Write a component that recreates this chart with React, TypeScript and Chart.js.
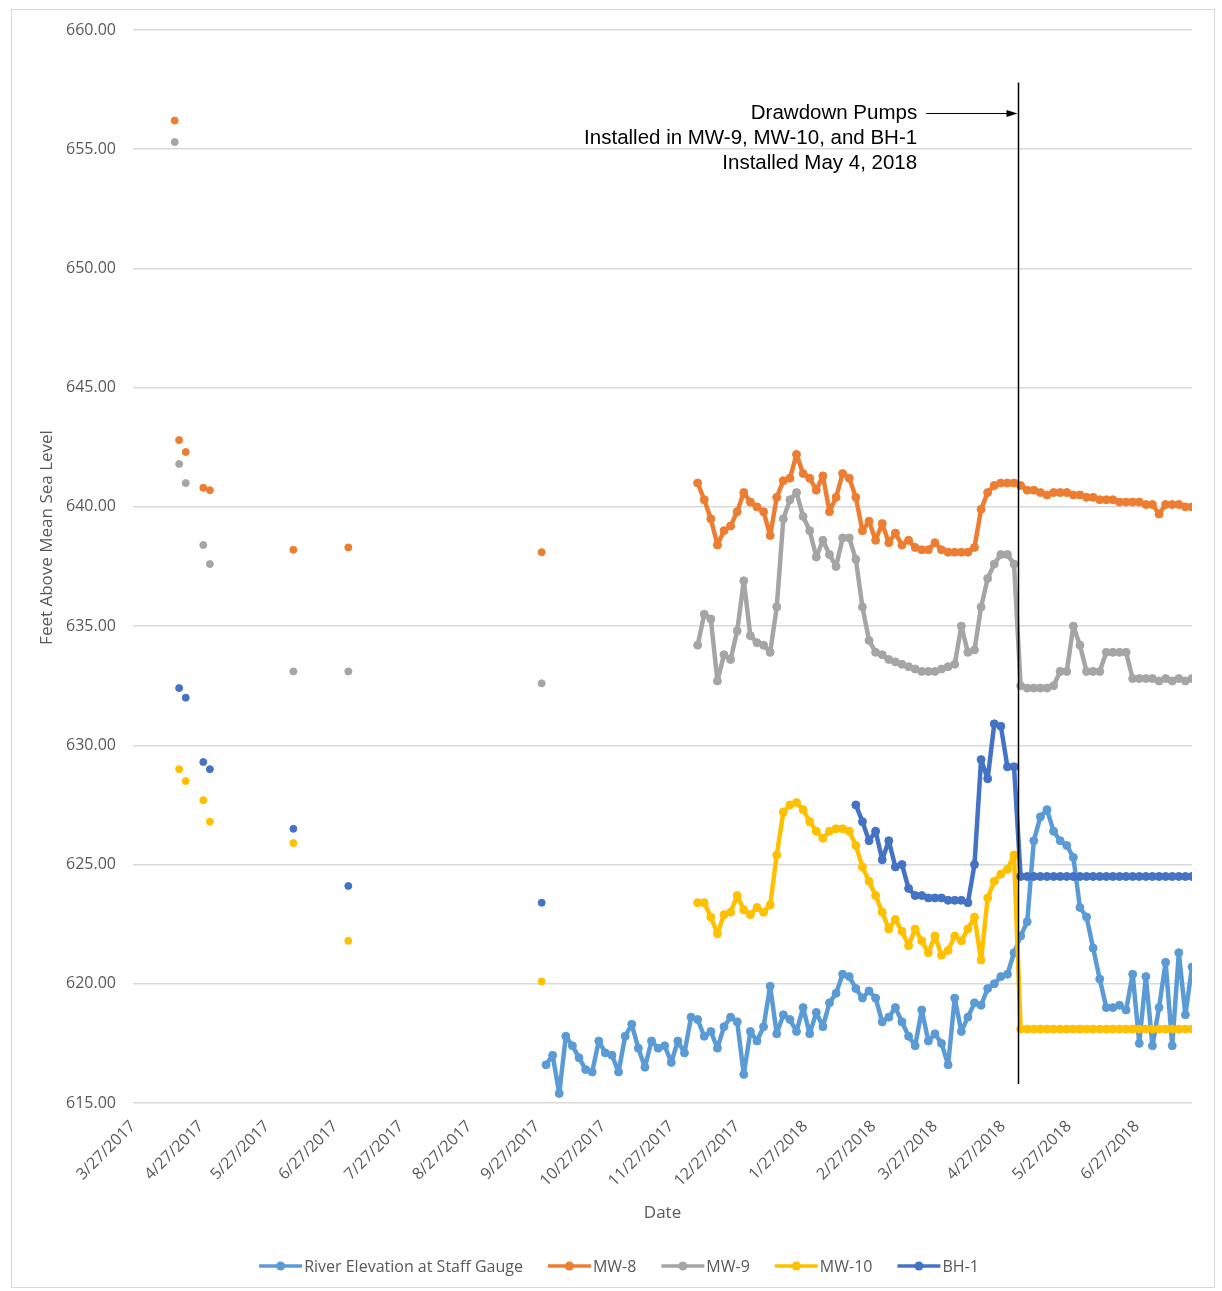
import { useEffect, useRef } from "react";
import { Chart, registerables } from "chart.js";

Chart.register(...registerables);

// ---- dates ---------------------------------------------------------------
const ORIGIN = "2017-03-27";
const X_MAX_DATE = "2018-07-22";

const dayOf = (iso: string): number => {
  const [y, m, d] = iso.split("-").map(Number);
  const [y0, m0, d0] = ORIGIN.split("-").map(Number);
  return (Date.UTC(y, m - 1, d) - Date.UTC(y0, m0 - 1, d0)) / 86400000;
};
const dayOfUS = (s: string): number => {
  const [m, d, y] = s.split("/").map(Number);
  return dayOf(`${y}-${String(m).padStart(2, "0")}-${String(d).padStart(2, "0")}`);
};

// ---- axes ----------------------------------------------------------------
const TICK_LABELS = [
  "3/27/2017", "4/27/2017", "5/27/2017", "6/27/2017", "7/27/2017", "8/27/2017",
  "9/27/2017", "10/27/2017", "11/27/2017", "12/27/2017", "1/27/2018", "2/27/2018",
  "3/27/2018", "4/27/2018", "5/27/2018", "6/27/2018",
];
const TICK_DAYS = TICK_LABELS.map(dayOfUS);
const Y_MIN = 615;
const Y_MAX = 660;
const Y_STEP = 5;

// ---- series --------------------------------------------------------------
const SERIES_NAMES = ["River Elevation at Staff Gauge", "MW-8", "MW-9", "MW-10", "BH-1"];
const SERIES_COLORS = ["#5B9BD5", "#ED7D31", "#A5A5A5", "#FFC000", "#4472C4"];

// Manual water-level readings
const MANUAL_DATES = [
  "2017-04-15", "2017-04-17", "2017-04-20", "2017-04-28",
  "2017-05-01", "2017-06-08", "2017-07-03", "2017-09-29",
];
const MW8_MANUAL = [656.2, 642.8, 642.3, 640.8, 640.7, 638.2, 638.3, 638.1];
const MW9_MANUAL = [655.3, 641.8, 641.0, 638.4, 637.6, 633.1, 633.1, 632.6];
const MW10_MANUAL = [null, 629.0, 628.5, 627.7, 626.8, 625.9, 621.8, 620.1];
const BH1_MANUAL = [null, 632.4, 632.0, 629.3, 629.0, 626.5, 624.1, 623.4];

// Transducer readings, one value every LOGGER_STEP_DAYS days from the start date
const LOGGER_STEP_DAYS = 3;

const RIVER_START = "2017-10-01";
const RIVER = [
  616.6, 617.0, 615.4, 617.8, 617.4, 616.9, 616.4, 616.3, 617.6, 617.1,
  617.0, 616.3, 617.8, 618.3, 617.3, 616.5, 617.6, 617.3, 617.4, 616.7,
  617.6, 617.1, 618.6, 618.5, 617.8, 618.0, 617.3, 618.2, 618.6, 618.4,
  616.2, 618.0, 617.6, 618.2, 619.9, 617.9, 618.7, 618.5, 618.0, 619.0,
  617.9, 618.8, 618.2, 619.2, 619.6, 620.4, 620.3, 619.8, 619.4, 619.7,
  619.4, 618.4, 618.6, 619.0, 618.4, 617.8, 617.4, 618.9, 617.6, 617.9,
  617.5, 616.6, 619.4, 618.0, 618.6, 619.2, 619.1, 619.8, 620.0, 620.3,
  620.4, 621.3, 622.0, 622.6, 626.0, 627.0, 627.3, 626.4, 626.0, 625.8,
  625.3, 623.2, 622.8, 621.5, 620.2, 619.0, 619.0, 619.1, 618.9, 620.4,
  617.5, 620.3, 617.4, 619.0, 620.9, 617.4, 621.3, 618.7, 620.7,
];

const WELL_START = "2017-12-09";
const MW8 = [
  641.0, 640.3, 639.5, 638.4, 639.0, 639.2, 639.8, 640.6, 640.2, 640.0,
  639.8, 638.8, 640.4, 641.1, 641.2, 642.2, 641.4, 641.2, 640.7, 641.3,
  639.8, 640.4, 641.4, 641.2, 640.4, 639.0, 639.4, 638.6, 639.3, 638.5,
  638.9, 638.4, 638.6, 638.3, 638.2, 638.2, 638.5, 638.2, 638.1, 638.1,
  638.1, 638.1, 638.3, 639.9, 640.6, 640.9, 641.0, 641.0, 641.0, 640.9,
  640.7, 640.7, 640.6, 640.5, 640.6, 640.6, 640.6, 640.5, 640.5, 640.4,
  640.4, 640.3, 640.3, 640.3, 640.2, 640.2, 640.2, 640.2, 640.1, 640.1,
  639.7, 640.1, 640.1, 640.1, 640.0, 640.0,
];
const MW9 = [
  634.2, 635.5, 635.3, 632.7, 633.8, 633.6, 634.8, 636.9, 634.6, 634.3,
  634.2, 633.9, 635.8, 639.5, 640.3, 640.6, 639.6, 639.0, 637.9, 638.6,
  638.0, 637.5, 638.7, 638.7, 637.8, 635.8, 634.4, 633.9, 633.8, 633.6,
  633.5, 633.4, 633.3, 633.2, 633.1, 633.1, 633.1, 633.2, 633.3, 633.4,
  635.0, 633.9, 634.0, 635.8, 637.0, 637.6, 638.0, 638.0, 637.6, 632.5,
  632.4, 632.4, 632.4, 632.4, 632.5, 633.1, 633.1, 635.0, 634.2, 633.1,
  633.1, 633.1, 633.9, 633.9, 633.9, 633.9, 632.8, 632.8, 632.8, 632.8,
  632.7, 632.8, 632.7, 632.8, 632.7, 632.8,
];
const MW10 = [
  623.4, 623.4, 622.8, 622.1, 622.9, 623.0, 623.7, 623.1, 622.9, 623.2,
  623.0, 623.3, 625.4, 627.2, 627.5, 627.6, 627.3, 626.8, 626.4, 626.1,
  626.4, 626.5, 626.5, 626.4, 625.8, 624.9, 624.3, 623.7, 623.0, 622.3,
  622.7, 622.2, 621.6, 622.3, 621.8, 621.3, 622.0, 621.2, 621.4, 622.0,
  621.8, 622.3, 622.8, 621.0, 623.6, 624.3, 624.6, 624.8, 625.4, 618.1,
  618.1, 618.1, 618.1, 618.1, 618.1, 618.1, 618.1, 618.1, 618.1, 618.1,
  618.1, 618.1, 618.1, 618.1, 618.1, 618.1, 618.1, 618.1, 618.1, 618.1,
  618.1, 618.1, 618.1, 618.1, 618.1, 618.1,
];

const BH1_START = "2018-02-19";
const BH1 = [
  627.5, 626.8, 626.0, 626.4, 625.2, 626.0, 624.9, 625.0, 624.0, 623.7,
  623.7, 623.6, 623.6, 623.6, 623.5, 623.5, 623.5, 623.4, 625.0, 629.4,
  628.6, 630.9, 630.8, 629.1, 629.1, 624.5, 624.5, 624.5, 624.5, 624.5,
  624.5, 624.5, 624.5, 624.5, 624.5, 624.5, 624.5, 624.5, 624.5, 624.5,
  624.5, 624.5, 624.5, 624.5, 624.5, 624.5, 624.5, 624.5, 624.5, 624.5,
  624.5, 624.5,
];

// ---- pump installation note ------------------------------------------------
const PUMP_DATE = "2018-05-04";
const PUMP_NOTE = ["Drawdown Pumps", "Installed in MW-9, MW-10, and BH-1", "Installed May 4, 2018"];
const PUMP_LINE_TOP = 657.8;
const PUMP_LINE_BOTTOM = 615.8;
const PUMP_ARROW_LEVEL = 656.5;
const PUMP_ARROW_TAIL = "2018-03-23";

// ---- helpers ---------------------------------------------------------------
type Pt = { x: number; y: number | null; manual?: boolean };

const loggerPoints = (start: string, values: number[]): Pt[] =>
  values.map((v, i) => ({ x: dayOf(start) + i * LOGGER_STEP_DAYS, y: v }));

const manualPoints = (values: (number | null)[]): Pt[] => {
  const out: Pt[] = [];
  MANUAL_DATES.forEach((d, i) => {
    const v = values[i];
    if (v == null) return;
    out.push({ x: dayOf(d), y: v, manual: true });
    out.push({ x: dayOf(d) + 0.5, y: null }); // break the line after each reading
  });
  return out;
};

const FONT = "'Open Sans', sans-serif";
const TEXT_GRAY = "#595959";

const decorPlugin = {
  id: "decor",
  beforeDraw(chart: any) {
    const { ctx, width, height } = chart;
    ctx.save();
    ctx.fillStyle = "#ffffff";
    ctx.fillRect(0, 0, width, height);
    ctx.strokeStyle = "#d9d9d9";
    ctx.lineWidth = 1;
    ctx.strokeRect(11.5, 9.5, width - 19, height - 13);
    ctx.restore();
  },
  afterDatasetsDraw(chart: any) {
    const { ctx, scales } = chart;
    const xs = scales.x;
    const ys = scales.y;
    ctx.save();
    // vertical marker at pump installation
    const xp = Math.round(xs.getPixelForValue(dayOf(PUMP_DATE))) + 0.5;
    ctx.strokeStyle = "#000000";
    ctx.lineWidth = 1.5;
    ctx.beginPath();
    ctx.moveTo(xp, ys.getPixelForValue(PUMP_LINE_TOP));
    ctx.lineTo(xp, ys.getPixelForValue(PUMP_LINE_BOTTOM));
    ctx.stroke();
    // arrow pointing at the marker
    const ya = Math.round(ys.getPixelForValue(PUMP_ARROW_LEVEL)) + 0.5;
    const xt = xs.getPixelForValue(dayOf(PUMP_ARROW_TAIL));
    ctx.lineWidth = 1.2;
    ctx.beginPath();
    ctx.moveTo(xt, ya);
    ctx.lineTo(xp - 8, ya);
    ctx.stroke();
    ctx.fillStyle = "#000000";
    ctx.beginPath();
    ctx.moveTo(xp - 1, ya);
    ctx.lineTo(xp - 12, ya - 3.5);
    ctx.lineTo(xp - 12, ya + 3.5);
    ctx.closePath();
    ctx.fill();
    // note text
    ctx.font = "20.5px 'Liberation Sans', Arial, sans-serif";
    ctx.textAlign = "right";
    ctx.textBaseline = "middle";
    PUMP_NOTE.forEach((line, i) => ctx.fillText(line, xt - 9, ya + i * 25));
    ctx.restore();
  },
  afterDraw(chart: any) {
    const { ctx, chartArea, width } = chart;
    ctx.save();
    ctx.fillStyle = TEXT_GRAY;
    // axis titles
    ctx.font = `17px ${FONT}`;
    ctx.textAlign = "center";
    ctx.textBaseline = "middle";
    ctx.fillText("Date", (chartArea.left + chartArea.right) / 2, chartArea.bottom + 110);
    ctx.save();
    ctx.translate(47, (chartArea.top + chartArea.bottom) / 2 - 29);
    ctx.rotate(-Math.PI / 2);
    ctx.fillText("Feet Above Mean Sea Level", 0, 0);
    ctx.restore();

    // legend
    ctx.font = `16px ${FONT}`;
    const sym = 43;
    const gap = 2;
    const spacing = 25;
    const widths = SERIES_NAMES.map((n) => ctx.measureText(n).width);
    const total =
      widths.reduce((a, w) => a + sym + gap + w, 0) + spacing * (SERIES_NAMES.length - 1);
    let x = width / 2 + 8 - total / 2;
    const y = chartArea.bottom + 163;
    ctx.textAlign = "left";
    SERIES_NAMES.forEach((name, i) => {
      const c = SERIES_COLORS[i];
      ctx.strokeStyle = c;
      ctx.fillStyle = c;
      ctx.lineWidth = 3.5;
      ctx.beginPath();
      ctx.moveTo(x, y);
      ctx.lineTo(x + sym, y);
      ctx.stroke();
      ctx.beginPath();
      ctx.arc(x + sym / 2, y, 4.5, 0, Math.PI * 2);
      ctx.fill();
      ctx.fillStyle = TEXT_GRAY;
      ctx.fillText(name, x + sym + gap, y + 1);
      x += sym + gap + widths[i] + spacing;
    });
    ctx.restore();
  },
};

export default function App() {
  const ref = useRef<HTMLCanvasElement | null>(null);

  useEffect(() => {
    document.body.style.margin = "0";
    if (!ref.current) return;

    const seriesData: Pt[][] = [
      loggerPoints(RIVER_START, RIVER),
      [...manualPoints(MW8_MANUAL), ...loggerPoints(WELL_START, MW8)],
      [...manualPoints(MW9_MANUAL), ...loggerPoints(WELL_START, MW9)],
      [...manualPoints(MW10_MANUAL), ...loggerPoints(WELL_START, MW10)],
      [...manualPoints(BH1_MANUAL), ...loggerPoints(BH1_START, BH1)],
    ];

    const chart = new Chart(ref.current, {
      type: "line",
      data: {
        datasets: SERIES_NAMES.map((name, i) => ({
          label: name,
          data: seriesData[i] as any,
          borderColor: SERIES_COLORS[i],
          backgroundColor: SERIES_COLORS[i],
          pointBackgroundColor: SERIES_COLORS[i],
          pointBorderColor: SERIES_COLORS[i],
          borderWidth: 4.5,
          pointRadius: (c: any) => (c.raw && c.raw.manual ? 3.5 : 4),
          pointBorderWidth: 1,
          borderJoinStyle: "round" as const,
          borderCapStyle: "round" as const,
          tension: 0,
          spanGaps: false,
          order: SERIES_NAMES.length - i,
        })),
      },
      options: {
        responsive: false,
        animation: false,
        devicePixelRatio: 1,
        layout: { padding: { top: 30, right: 30, left: 0, bottom: 0 } },
        plugins: { legend: { display: false }, tooltip: { enabled: false } },
        scales: {
          x: {
            type: "linear",
            min: 0,
            max: dayOf(X_MAX_DATE),
            afterBuildTicks: (s: any) => {
              s.ticks = TICK_DAYS.map((v) => ({ value: v }));
            },
            afterFit: (s: any) => {
              s.height = 188;
            },
            grid: { display: false },
            border: { display: false },
            ticks: {
              autoSkip: false,
              minRotation: 45,
              maxRotation: 45,
              padding: 6,
              color: TEXT_GRAY,
              font: { family: FONT, size: 16 },
              callback: (v: any) => {
                const k = TICK_DAYS.indexOf(Number(v));
                return k >= 0 ? TICK_LABELS[k] : "";
              },
            },
          },
          y: {
            min: Y_MIN,
            max: Y_MAX,
            afterFit: (s: any) => {
              s.width = 133;
            },
            grid: { color: "#d9d9d9", lineWidth: 1.5, drawTicks: false },
            border: { display: false },
            ticks: {
              stepSize: Y_STEP,
              padding: 17,
              color: TEXT_GRAY,
              font: { family: FONT, size: 16 },
              callback: (v: any) => Number(v).toFixed(2),
            },
          },
        },
      },
      plugins: [decorPlugin],
    });

    return () => chart.destroy();
  }, []);

  return <canvas ref={ref} width={1222} height={1291} style={{ display: "block" }} />;
}
